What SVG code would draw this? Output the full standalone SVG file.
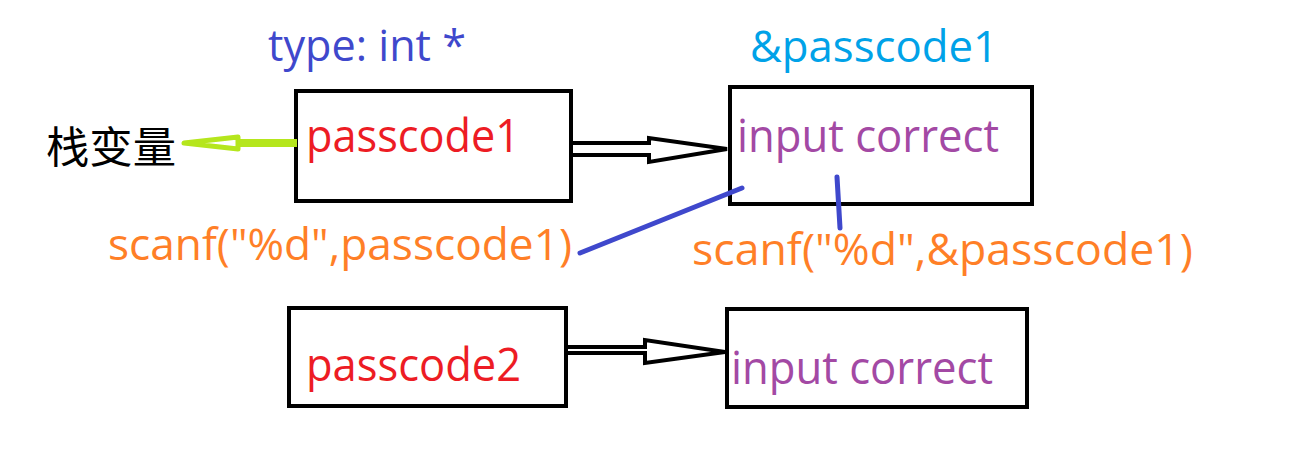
<svg xmlns="http://www.w3.org/2000/svg" width="1310" height="466" viewBox="0 0 1310 466">
<style>
text{font-family:"Open Sans","Noto Sans","Noto Sans CJK SC",sans-serif}
.box{fill:none;stroke:#000;stroke-width:4}
.big{font-size:46px}
.mid{font-size:44px}
.red{fill:#ed1c24}
.pur{fill:#a349a4}
.org{fill:#ff7f27}
.dbl{fill:none;stroke:#000;stroke-width:4;stroke-linejoin:miter}
.blue{stroke:#3f48cc;stroke-width:5;stroke-linecap:round}
</style>
<rect width="1310" height="466" fill="#fff"/>
<text x="268" y="61" class="mid" fill="#3f48cc" textLength="198" lengthAdjust="spacingAndGlyphs">type: int *</text>
<text x="750" y="62" class="mid" fill="#00a2e8" textLength="248" lengthAdjust="spacingAndGlyphs">&amp;passcode1</text>
<text x="46" y="163" font-size="43" fill="#000" style="font-family:'Noto Sans CJK SC',sans-serif" textLength="130" lengthAdjust="spacingAndGlyphs">栈变量</text>
<g id="node-p1">
<rect class="box" x="296" y="91" width="275" height="110"/>
<text x="306" y="152" class="big red" textLength="214" lengthAdjust="spacingAndGlyphs">passcode1</text>
</g>
<g id="node-ic1">
<rect class="box" x="730" y="87" width="302" height="117"/>
<text x="737" y="152" class="big pur" textLength="262" lengthAdjust="spacingAndGlyphs">input correct</text>
</g>
<g id="node-p2">
<rect class="box" x="289" y="308" width="277" height="98"/>
<text x="306" y="381" class="big red" textLength="215" lengthAdjust="spacingAndGlyphs">passcode2</text>
</g>
<g id="node-ic2">
<rect class="box" x="727" y="309" width="300" height="98"/>
<text x="731" y="384" class="big pur" textLength="262" lengthAdjust="spacingAndGlyphs">input correct</text>
</g>
<text x="108" y="260" class="mid org" textLength="464" lengthAdjust="spacingAndGlyphs">scanf("%d",passcode1)</text>
<text x="692" y="265" class="mid org" textLength="501" lengthAdjust="spacingAndGlyphs">scanf("%d",&amp;passcode1)</text>
<g id="connectors">
<path class="dbl" d="M570 143 H649 V138 L727 149 L649 162 V155 H570"/>
<path class="dbl" d="M566 347 H645 V340 L725 352 L645 363 V353 H566"/>
<line x1="297" y1="143" x2="236" y2="143" stroke="#b5e61d" stroke-width="8"/>
<polygon points="184,143 238,137 238,149" fill="#fff" stroke="#b5e61d" stroke-width="5" stroke-linejoin="round"/>
<line class="blue" x1="742" y1="188" x2="580" y2="253"/>
<line class="blue" x1="837" y1="177" x2="840" y2="228"/>
</g>
</svg>
